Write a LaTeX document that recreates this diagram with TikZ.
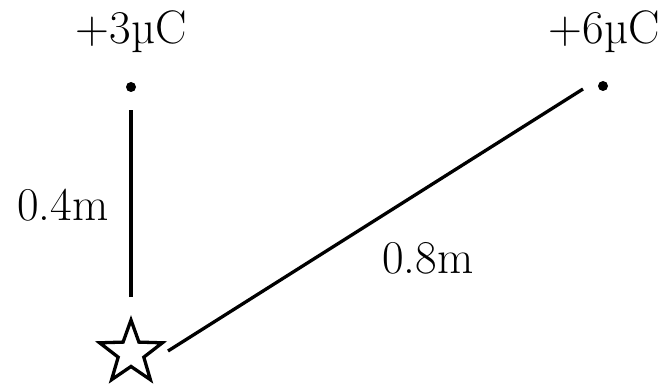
\documentclass[tikz,border=0pt]{standalone}
\usepackage{fontspec}
\usetikzlibrary{shapes.geometric}
\begin{document}
\begin{tikzpicture}[x=1pt, y=1pt, line width=3.3pt, line cap=butt,
    charge/.style={circle, fill, inner sep=0pt, minimum size=10pt},
    lbl/.style={anchor=base, font=\fontsize{47}{56}\selectfont}]
  \useasboundingbox (0,0) rectangle (666,389);
  \node[star, star points=5, star point ratio=2.45, draw, line width=3.3pt,
    inner sep=0pt, minimum size=66pt] (p) at (131,36) {};
  \node[charge] (qa) at (131,302) {};
  \node[charge] (qb) at (603,303) {};
  \node[lbl] (qalbl) at (131,345) {+3µC};
  \node[lbl] (qblbl) at (604,345) {+6µC};
  \draw[shorten <=18pt, shorten >=16pt] (p) -- (qa);
  \draw ([shift={(37,2)}]p.center) -- ([shift={(-20,-3)}]qb.center);
  \node[lbl] (da) at (63,169) {0.4m};
  \node[lbl] (db) at (428,116) {0.8m};
\end{tikzpicture}
\end{document}
